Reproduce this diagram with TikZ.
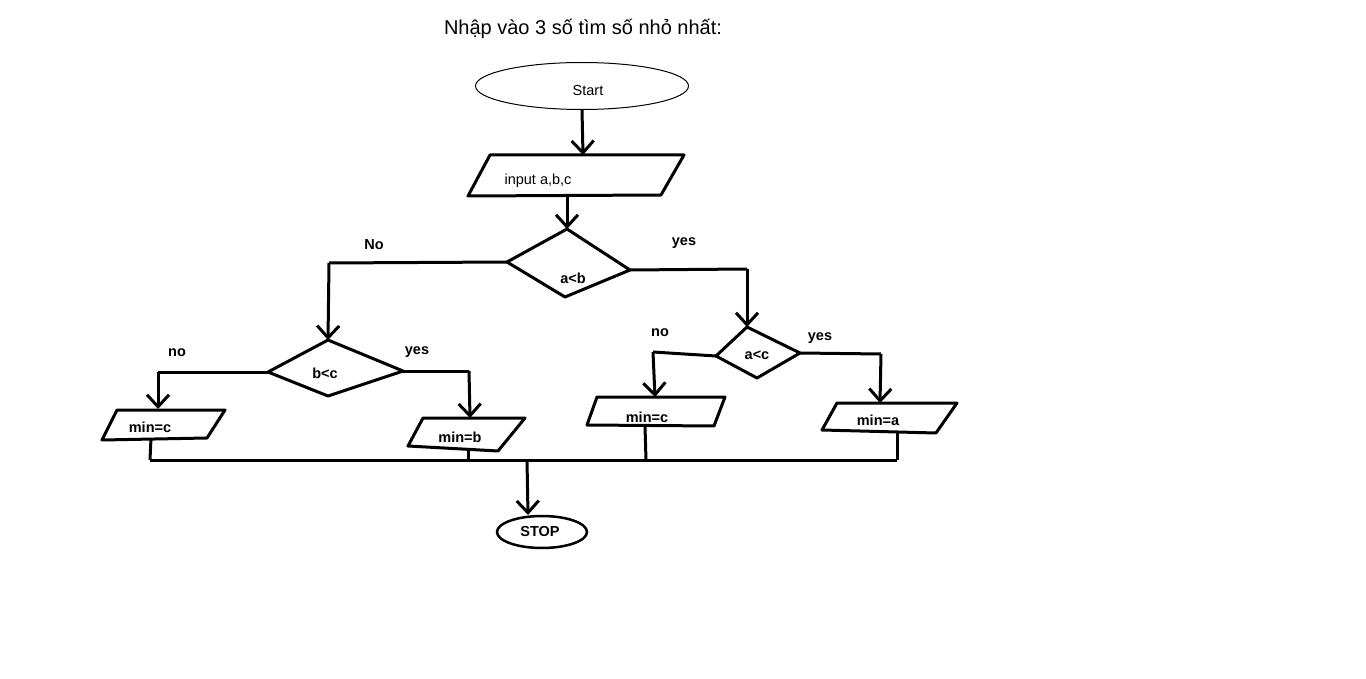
\documentclass[tikz,border=0pt]{standalone}
\usepackage{fontspec}
\setmainfont{Liberation Sans}
\usetikzlibrary{arrows.meta,shapes.geometric}
\begin{document}
\begin{tikzpicture}[x=1pt,y=-1pt,
  outl/.style={line width=3pt, line join=round},
  conn/.style={line width=3pt},
  arr/.style={conn, -{Straight Barb[length=12pt,width=22pt]}},
  lbl/.style={font=\fontsize{14.5}{17}\selectfont\bfseries, inner sep=0pt},
  txt/.style={font=\fontsize{14.5}{17}\selectfont, inner sep=0pt}]
\useasboundingbox[fill=white] (0,0) rectangle (1366,679);

% title
\node[font=\fontsize{20}{24}\selectfont, inner sep=0pt] (title) at (583,29) {Nhập vào 3 số tìm số nhỏ nhất:};

% start
\node[draw, ellipse, line width=1pt, minimum width=213pt, minimum height=47pt, inner sep=0pt] (start) at (582,86) {};
\node[txt] (starttxt) at (588,91) {Start};

% input parallelogram
\coordinate (inTL) at (490,155);
\coordinate (inTR) at (684,155);
\coordinate (inBR) at (661,195);
\coordinate (inBL) at (468,196);
\draw[outl] (inTL) -- (inTR) -- (inBR) -- (inBL) -- cycle;
\node[txt] (intxt) at (538,181) {input a,b,c};
\coordinate (inIn) at (583,155);
\coordinate (inOut) at (567,195);
\draw[arr] (start.south) -- (inIn);

% diamond a<b
\coordinate (abT) at (567,229);
\coordinate (abL) at (507,262);
\coordinate (abR) at (630,270);
\coordinate (abB) at (565,297);
\draw[outl] (abT) -- (abR) -- (abB) -- (abL) -- cycle;
\node[lbl] (abtxt) at (573,278) {a<b};
\draw[arr] (inOut) -- (abT);

% diamond b<c
\coordinate (bcT) at (328,340);
\coordinate (bcL) at (268,372);
\coordinate (bcR) at (403,371);
\coordinate (bcB) at (328,396);
\draw[outl] (bcT) -- (bcR) -- (bcB) -- (bcL) -- cycle;
\node[lbl] (bctxt) at (325,373) {b<c};

% diamond a<c
\coordinate (acT) at (747,327);
\coordinate (acL) at (716,356);
\coordinate (acR) at (800,353);
\coordinate (acB) at (757,378);
\draw[outl] (acT) -- (acR) -- (acB) -- (acL) -- cycle;
\node[lbl] (actxt) at (757,355) {a<c};

% a<b branches
\coordinate (abLc) at (329,263);
\coordinate (abRc) at (747,269);
\draw[conn] (abL) -- (abLc);
\draw[arr] (abLc) -- (bcT);
\draw[conn] (abR) -- (abRc);
\draw[arr] (abRc) -- (acT);
\node[lbl] (lNo) at (374,245) {No};
\node[lbl] (lyes1) at (684,243) {yes};

% boxes
\coordinate (m1TL) at (117,410); \coordinate (m1TR) at (225,410);
\coordinate (m1BR) at (207,438); \coordinate (m1BL) at (102,440);
\draw[outl] (m1TL) -- (m1TR) -- (m1BR) -- (m1BL) -- cycle;
\node[lbl] (m1txt) at (150,427) {min=c};

\coordinate (m2TL) at (423,418); \coordinate (m2TR) at (525,418);
\coordinate (m2BR) at (498,451); \coordinate (m2BL) at (408,446);
\draw[outl] (m2TL) -- (m2TR) -- (m2BR) -- (m2BL) -- cycle;
\node[lbl] (m2txt) at (460,437) {min=b};

\coordinate (m3TL) at (597,397); \coordinate (m3TR) at (725,397);
\coordinate (m3BR) at (714,426); \coordinate (m3BL) at (587,425);
\draw[outl] (m3TL) -- (m3TR) -- (m3BR) -- (m3BL) -- cycle;
\node[lbl] (m3txt) at (647,417) {min=c};

\coordinate (m4TL) at (837,403); \coordinate (m4TR) at (957,403);
\coordinate (m4BR) at (936,433); \coordinate (m4BL) at (822,430);
\draw[outl] (m4TL) -- (m4TR) -- (m4BR) -- (m4BL) -- cycle;
\node[lbl] (m4txt) at (878,420) {min=a};

% b<c branches
\coordinate (bcLc) at (158,372);
\coordinate (m1In) at (158,409);
\coordinate (bcRc) at (469,371);
\coordinate (m2In) at (470,418);
\draw[conn] (bcL) -- (bcLc);
\draw[arr] (bcLc) -- (m1In);
\draw[conn] (bcR) -- (bcRc);
\draw[arr] (bcRc) -- (m2In);
\node[lbl] (lno2) at (177,353) {no};
\node[lbl] (lyes2) at (417,352) {yes};

% a<c branches
\coordinate (acLc) at (653,352);
\coordinate (m3In) at (655,397);
\coordinate (acRc) at (881,354);
\coordinate (m4In) at (880,403);
\draw[conn] (acL) -- (acLc);
\draw[arr] (acLc) -- (m3In);
\draw[conn] (acR) -- (acRc);
\draw[arr] (acRc) -- (m4In);
\node[lbl] (lno3) at (660,333) {no};
\node[lbl] (lyes3) at (820,338) {yes};

% merge line
\coordinate (m1Out) at (151,438);
\coordinate (j1) at (150,460);
\coordinate (m2Out) at (468,449);
\coordinate (j2) at (468,460);
\coordinate (m3Out) at (645,426);
\coordinate (j3) at (646,460);
\coordinate (m4Out) at (897,433);
\coordinate (j4) at (897,460);
\coordinate (jS) at (527,460);
\draw[conn] (m1Out) -- (j1);
\draw[conn] (m2Out) -- (j2);
\draw[conn] (m3Out) -- (j3);
\draw[conn] (m4Out) -- (j4);
\draw[conn] (j1) -- (j4);

% stop
\node[draw, ellipse, line width=2.5pt, minimum width=90pt, minimum height=32pt, inner sep=0pt] (stop) at (542,532) {};
\node[lbl] (stoptxt) at (540,532) {STOP};
\coordinate (stopIn) at (528,515);
\draw[arr] (jS) -- (stopIn);
\end{tikzpicture}
\end{document}
